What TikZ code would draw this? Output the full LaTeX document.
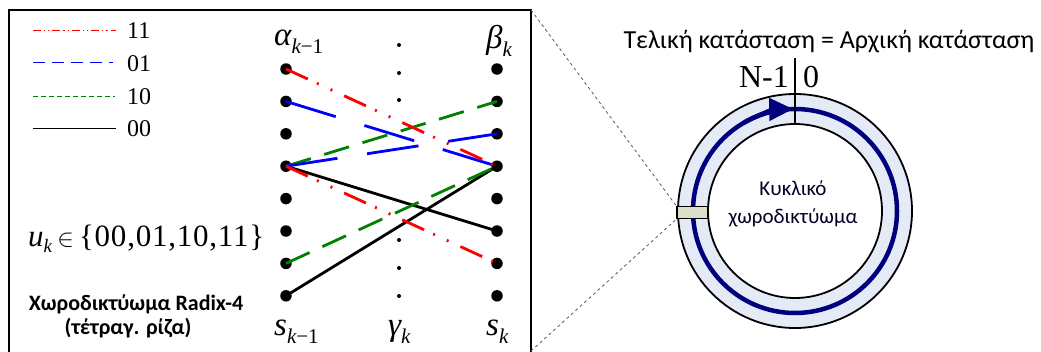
\documentclass[tikz,border=0pt]{standalone}
\usepackage{fontspec}
\setmainfont{Liberation Serif}
\newfontfamily\calfont{Carlito}
\newfontfamily\wideserif[LetterSpace=2.5]{Liberation Serif}
\usetikzlibrary{arrows.meta}
\definecolor{ringfill}{HTML}{E5EBF6}
\definecolor{navyc}{HTML}{00007F}
\definecolor{winfill}{HTML}{DCE0CA}
\definecolor{greenc}{HTML}{008000}
\tikzset{
  bigdot/.style={circle,fill=black,inner sep=0pt,minimum size=11.5pt},
  smalldot/.style={circle,fill=black,inner sep=0pt,minimum size=4pt},
  tr/.style={line width=2.8pt},
  trred/.style={tr,red,dash pattern=on 24pt off 10pt on 2pt off 13pt on 2pt off 13pt},
  trblue/.style={tr,blue,dash pattern=on 52pt off 30pt},
  trgreen/.style={tr,greenc,dash pattern=on 26pt off 14pt},
  trblack/.style={tr,black},
  lg/.style={line width=1pt},
  lgtxt/.style={anchor=base west,inner sep=0pt,font=\fontsize{24}{24}\selectfont},
  mlab/.style={anchor=base west,inner sep=0pt},
}
\newcommand\biglab[2]{{\fontsize{33}{33}\selectfont\itshape #1\raisebox{-8pt}{\fontsize{21}{21}\selectfont #2}}}
\begin{document}
\begin{tikzpicture}[x=1pt,y=-1pt]
\useasboundingbox (0,0) rectangle (1041,351);
% left frame
\draw[line width=1.8pt] (9,360) -- (9,10) -- (531,10) -- (531,360);
\coordinate (ftr) at (531,10);
\coordinate (fbr) at (531,351);
% legend
\node[lgtxt] (t11) at (127,38) {11};
\node[lgtxt] (t01) at (127,71) {01};
\node[lgtxt] (t10) at (127,104) {10};
\node[lgtxt] (t00) at (127,136) {00};
\coordinate (a11) at (33,30); \coordinate (a01) at (33,62);
\coordinate (a10) at (33,96); \coordinate (a00) at (33,128);
\draw[lg,red,dash pattern=on 8pt off 3pt on 1.2pt off 3pt on 1.2pt off 3pt] (a11) -- ++(83,0);
\draw[lg,blue,dash pattern=on 12pt off 7pt] (a01) -- ++(80,0);
\draw[lg,greenc,dash pattern=on 5pt off 3pt] (a10) -- ++(82,0);
\draw[lg,black] (a00) -- ++(83,0);
% trellis dots
\foreach \i in {0,...,7}{
  \node[bigdot] (L\i) at (286,{69+32.4*\i}) {};
  \node[bigdot] (R\i) at (497,{69+32.4*\i}) {};
}
\node[smalldot] (m1) at (399,45) {};
\node[smalldot] (m2) at (399,73) {};
\node[smalldot] (m3) at (399,100) {};
\node[smalldot] (m4) at (399,240) {};
\node[smalldot] (m5) at (399,268) {};
\node[smalldot] (m6) at (399,296) {};
% trellis edges
\draw[trblack] (L3.center) -- (R5.center);
\draw[trblack] (L7.center) -- (R3.center);
\draw[trgreen] (L3.center) -- (R1.center);
\draw[trgreen] (L6.center) -- (R3.center);
\draw[trblue] (L1.center) -- (R3.center);
\draw[trblue] (L3.center) -- (R2.center);
\draw[trred] (L0.center) -- (R3.center);
\draw[trred] (L3.center) -- (R6.center);
% trellis labels
\node[mlab] (alab) at (274,45) {\biglab{α}{k\upshape−1}};
\node[mlab] (blab) at (486,48) {\biglab{β}{k}};
\node[mlab] (slab) at (274,335) {\biglab{s}{k\upshape−1}};
\node[mlab] (glab) at (388,335) {\biglab{γ}{k}};
\node[mlab] (sklab) at (486,335) {\biglab{s}{k}};
% u_k set
\node[mlab] (uk) at (28,246) {\fontsize{31}{31}\selectfont{\itshape u}\raisebox{-6pt}{\fontsize{19}{19}\selectfont\itshape k}\,$\in$\,{\wideserif\{00,01,10,11\}}};
% caption
\node[anchor=base,inner sep=0pt] (cap1) at (136,310) {\calfont\bfseries\fontsize{22}{22}\selectfont Χωροδικτύωμα Radix-4};
\node[anchor=base,inner sep=0pt] (cap2) at (128,334) {\calfont\bfseries\fontsize{22}{22}\selectfont (τέτραγ. ρίζα)};
% right: ring
\coordinate (c) at (795,211);
\fill[ringfill,even odd rule] (c) circle[radius=117] (c) circle[radius=87];
\draw[line width=1.8pt] (c) circle[radius=117];
\draw[line width=1.8pt] (c) circle[radius=87];
\draw[navyc,line width=4.5pt] (c) circle[radius=102];
\draw[navyc,line width=4.5pt,-{Triangle[length=24pt,width=22pt]}] ([shift={(-120:102)}]c) arc[start angle=-120,end angle=-91,radius=102];
\node[draw,fill=winfill,line width=1.5pt,minimum width=31pt,minimum height=12pt,inner sep=0pt] (win) at (692.5,212.5) {};
\coordinate (vtop) at (795,58);
\coordinate (vbot) at (795,124);
\draw[line width=2.4pt] (vtop) -- (vbot);
\node[anchor=base east,inner sep=0pt] (nm1) at (789,87) {\fontsize{32}{32}\selectfont N-1};
\node[anchor=base west,inner sep=0pt] (n0) at (803,87) {\fontsize{32}{32}\selectfont 0};
\node[anchor=base,inner sep=0pt] (title) at (829,48) {\calfont\fontsize{26}{26}\selectfont Τελική κατάσταση = Αρχική κατάσταση};
\node[align=center,inner sep=0pt,font=\calfont\fontsize{21}{28}\selectfont,text=black!85!blue] (ktxt) at (793,204) {Κυκλικό\\χωροδικτύωμα};
% zoom lines
\draw[gray!70!black,dashed,line width=0.8pt] (ftr) -- (win.north west);
\draw[gray!70!black,dashed,line width=0.8pt] (fbr) -- (win.south west);
\end{tikzpicture}
\end{document}
